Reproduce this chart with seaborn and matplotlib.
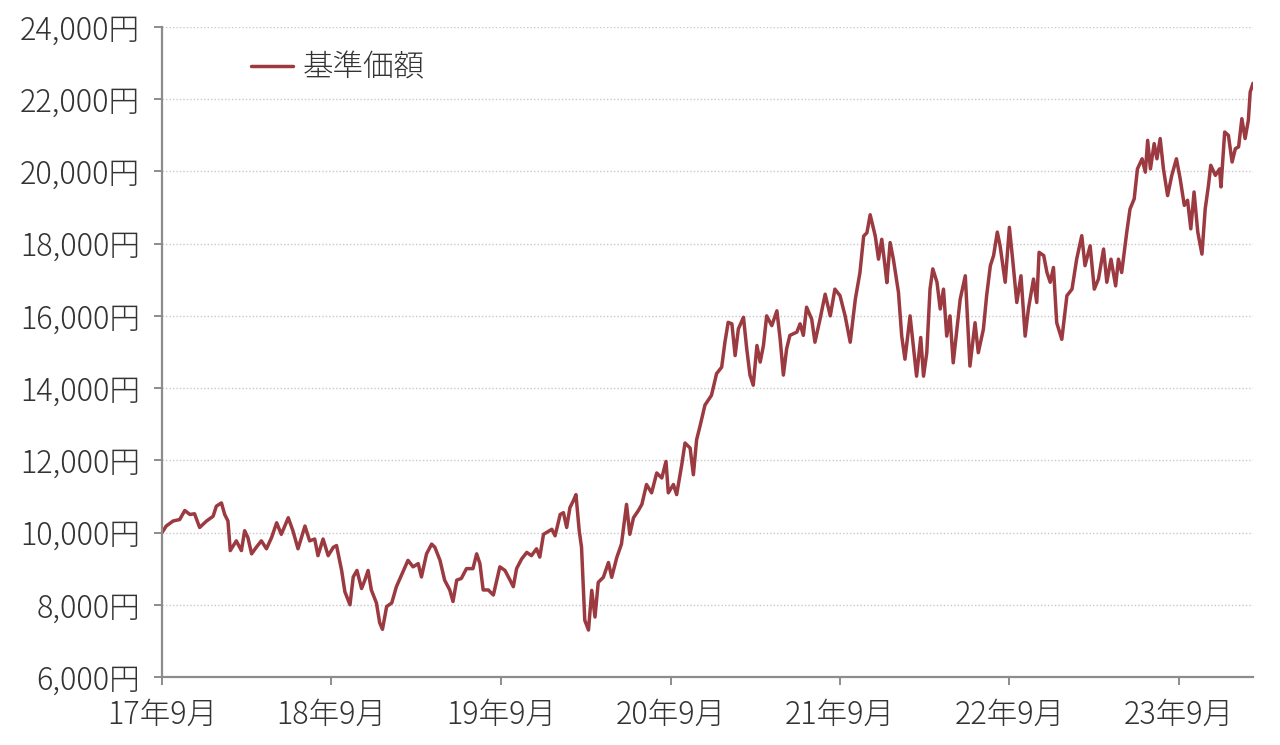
import pandas as pd
import matplotlib
matplotlib.use("Agg")
import matplotlib.pyplot as plt
import matplotlib.ticker as mticker
import seaborn as sns

# 設定日(2017/9/1)からの経過日数と基準価額（円）
days_a = [0, 9, 24, 38, 49, 60, 70, 81, 96, 110, 117, 128, 135, 142, 147, 160,
          171, 178, 185, 193, 203, 214, 225, 236, 247, 257, 272, 282, 293, 308,
          318, 329, 336, 347, 358, 369, 376, 387, 394, 405, 412, 420, 430, 437,
          444, 451, 462, 469, 475, 484, 495, 505, 516, 530, 541, 552, 559, 570,
          581, 588, 599, 609, 620, 627, 635, 645, 656, 670, 678, 685, 692, 703,
          714, 728, 739, 750, 757, 764, 775, 786, 796, 807, 814]
nav_a = [10000, 10180, 10320, 10360, 10610, 10500, 10520, 10140, 10320, 10450,
         10730, 10820, 10500, 10320, 9500, 9770, 9500, 10050, 9860, 9410, 9590,
         9770, 9550, 9860, 10270, 9950, 10410, 10050, 9550, 10180, 9770, 9820,
         9360, 9820, 9360, 9590, 9640, 8950, 8360, 8000, 8770, 8950, 8450, 8680,
         8950, 8410, 8050, 7500, 7320, 7950, 8050, 8500, 8820, 9230, 9050, 9140,
         8770, 9410, 9680, 9590, 9230, 8680, 8410, 8090, 8680, 8730, 9000, 9000,
         9410, 9140, 8410, 8410, 8270, 9050, 8950, 8680, 8500, 9000, 9270, 9450,
         9360, 9550, 9320]

days_b = [822, 840, 847, 858, 865, 872, 879, 886, 892, 899, 904, 911, 919, 926,
          933, 940, 951, 962, 969, 980, 990, 1001, 1008, 1016, 1026, 1034, 1044,
          1055, 1066, 1077, 1086, 1091, 1102, 1109, 1120, 1127, 1138, 1145, 1152,
          1159, 1170, 1184, 1195, 1206, 1213, 1220, 1228, 1235, 1242, 1253, 1260,
          1267, 1274, 1282, 1289, 1296, 1303, 1314, 1325, 1332, 1339, 1346, 1353,
          1368, 1375, 1382, 1389, 1400, 1407, 1418, 1429, 1440, 1450, 1461, 1472,
          1483, 1494, 1504, 1512, 1519, 1526, 1537, 1544, 1551, 1558, 1562, 1569,
          1576, 1587]
nav_b = [9950, 10090, 9910, 10500, 10550, 10140, 10690, 10870, 11050, 10050,
         9590, 7570, 7300, 8400, 7660, 8620, 8760, 9170, 8760, 9310, 9680, 10780,
         9950, 10410, 10600, 10780, 11330, 11100, 11650, 11510, 11970, 11100,
         11330, 11050, 11880, 12480, 12340, 11600, 12570, 12930, 13530, 13800,
         14400, 14580, 15270, 15820, 15780, 14900, 15640, 15960, 15090, 14360,
         14080, 15180, 14720, 15180, 16000, 15730, 16140, 15360, 14360, 15090,
         15460, 15550, 15780, 15460, 16240, 15910, 15270, 15910, 16600, 16000,
         16740, 16560, 16000, 15270, 16460, 17200, 18210, 18300, 18800, 18210,
         17570, 18120, 17380, 16920, 18030, 17570, 16650]

days_c = [1594, 1601, 1612, 1619, 1626, 1635, 1641, 1648, 1655, 1661, 1670,
          1677, 1684, 1691, 1698, 1705, 1713, 1720, 1731, 1741, 1752, 1759, 1770,
          1777, 1785, 1792, 1800, 1806, 1817, 1826, 1833, 1842, 1851, 1860, 1867,
          1878, 1885, 1890, 1900, 1907, 1914, 1921, 1928, 1939, 1950, 1961, 1971,
          1982, 1989, 2000, 2009, 2018, 2029, 2036, 2045, 2055, 2061, 2068, 2079,
          2086, 2095, 2102, 2112, 2119, 2124, 2130, 2138, 2144, 2151, 2158, 2167,
          2176, 2186, 2194, 2203, 2210, 2217, 2224, 2232, 2241, 2248, 2255, 2260,
          2270, 2279, 2282, 2290, 2298, 2306, 2313, 2320, 2327, 2334, 2341, 2345,
          2351]
nav_c = [15440, 14800, 16000, 15170, 14330, 15400, 14330, 14980, 16740, 17300,
         16930, 16190, 16740, 15440, 16000, 14700, 15630, 16460, 17110, 14610,
         15810, 14980, 15630, 16560, 17390, 17670, 18320, 17940, 16930, 18450,
         17570, 16370, 17110, 15440, 16190, 17020, 16370, 17760, 17670, 17200,
         16930, 17340, 15810, 15350, 16560, 16740, 17570, 18220, 17390, 17940,
         16740, 17020, 17850, 16930, 17570, 16830, 17570, 17200, 18320, 18960,
         19240, 20070, 20350, 19980, 20860, 20070, 20770, 20350, 20910, 20070,
         19330, 19890, 20350, 19800, 19060, 19200, 18410, 19430, 18320, 17710,
         18960, 19610, 20170, 19890, 20070, 19570, 21090, 21000, 20260, 20630,
         20680, 21460, 20910, 21420, 22200, 22440]

tick_dates = ["2017-09-01", "2018-09-01", "2019-09-01", "2020-09-01",
              "2021-09-01", "2022-09-01", "2023-09-01"]
tick_labels = ["17年9月", "18年9月", "19年9月", "20年9月", "21年9月", "22年9月", "23年9月"]
y_ticks = list(range(6000, 24001, 2000))

start = pd.Timestamp("2017-09-01")
df = pd.DataFrame({
    "days": days_a + days_b + days_c,
    "基準価額": nav_a + nav_b + nav_c,
})
df["date"] = start + pd.to_timedelta(df["days"], unit="D")

sns.set_style("white")
plt.rcParams["font.family"] = ["Noto Sans CJK JP", "DejaVu Sans"]
plt.rcParams["font.weight"] = "light"

fig = plt.figure(figsize=(12.8, 7.45), dpi=100)
ax = fig.add_axes([0.1266, 0.0913, 0.8523, 0.8725])

sns.lineplot(data=df, x="date", y="基準価額", color="#9b3a40", linewidth=2.5,
             label="基準価額", ax=ax)

ax.set_xlim(df["date"].iloc[0], df["date"].iloc[-1])
ax.set_ylim(6000, 24000)
ax.set_yticks(y_ticks)
ax.yaxis.set_major_formatter(mticker.FuncFormatter(lambda v, p: f"{int(v):,}円"))
ax.set_xticks(pd.to_datetime(tick_dates))
ax.set_xticklabels(tick_labels)
ax.set_xlabel("")
ax.set_ylabel("")

ax.grid(axis="y", linestyle=(0, (1, 1.5)), color="#c8c8c8", linewidth=1.0)
ax.set_axisbelow(True)
for side in ["top", "right"]:
    ax.spines[side].set_visible(False)
for side in ["left", "bottom"]:
    ax.spines[side].set_color("#8c8c8c")
    ax.spines[side].set_linewidth(1.6)
ax.tick_params(axis="both", which="major", direction="out", length=6, width=1.4,
               color="#8c8c8c", labelsize=22, labelcolor="#333333",
               left=True, bottom=True)
ax.tick_params(axis="y", pad=10)
ax.tick_params(axis="x", pad=10)

leg = ax.legend(loc="upper left", frameon=False, fontsize=22, handlelength=1.4,
                handletextpad=0.3, bbox_to_anchor=(0.056, 1.005))
for t in leg.get_texts():
    t.set_color("#333333")

fig.savefig("out.png", dpi=100)
